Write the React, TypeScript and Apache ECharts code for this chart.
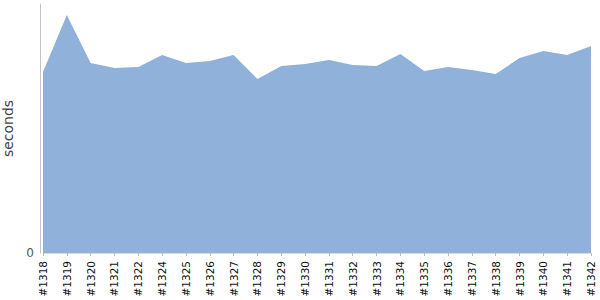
import React, { useEffect, useRef } from "react";
import * as echarts from "echarts";

const categories = [
  "#1318", "#1319", "#1320", "#1321", "#1322", "#1324", "#1325", "#1326",
  "#1327", "#1328", "#1329", "#1330", "#1331", "#1332", "#1333", "#1334",
  "#1335", "#1336", "#1337", "#1338", "#1339", "#1340", "#1341", "#1342",
];
const seconds = [
  181, 238, 190, 185, 186, 198, 190, 192, 198, 174, 187, 189,
  193, 188, 187, 199, 182, 186, 183, 179, 195, 202, 198, 207,
];
const yMax = 249;

export default function App() {
  const ref = useRef<HTMLDivElement>(null);
  useEffect(() => {
    const chart = echarts.init(ref.current!, undefined, { renderer: "svg" });
    chart.setOption({
      animation: false,
      grid: { left: 43, right: 9, top: 4, bottom: 47, containLabel: false, outerBoundsMode: "none" },
      xAxis: {
        type: "category",
        data: categories,
        boundaryGap: false,
        axisLine: { show: true, lineStyle: { color: "#dcdcdc" } },
        axisTick: { show: true, length: 3, alignWithLabel: true, lineStyle: { color: "#bbbbbb" } },
        axisLabel: {
          rotate: 90,
          interval: 0,
          fontSize: 10.5,
          color: "#111",
          fontFamily: "DejaVu Sans, sans-serif",
          margin: 8,
        },
        splitLine: { show: false },
      },
      yAxis: {
        type: "value",
        min: 0,
        max: yMax,
        interval: yMax,
        offset: 3,
        name: "seconds",
        nameLocation: "middle",
        nameGap: 19,
        nameRotate: 90,
        nameTextStyle: {
          fontSize: 14,
          color: "#444",
          fontFamily: "DejaVu Sans, sans-serif",
        },
        axisLine: { show: true, lineStyle: { color: "#c4c4c4" } },
        axisTick: { show: false },
        splitLine: { show: false },
        axisLabel: {
          formatter: (v: number) => (v === 0 ? "0" : ""),
          fontSize: 12,
          color: "#555",
          fontFamily: "DejaVu Sans, sans-serif",
          margin: 6,
        },
      },
      series: [
        {
          type: "line",
          data: seconds,
          symbol: "none",
          lineStyle: { width: 0, color: "#8fb1da" },
          areaStyle: { color: "#8fb1da", opacity: 1 },
          itemStyle: { color: "#8fb1da" },
        },
      ],
    });
    return () => chart.dispose();
  }, []);
  return <div ref={ref} style={{ width: 600, height: 300, position: "absolute", left: 0, top: 0 }} />;
}
